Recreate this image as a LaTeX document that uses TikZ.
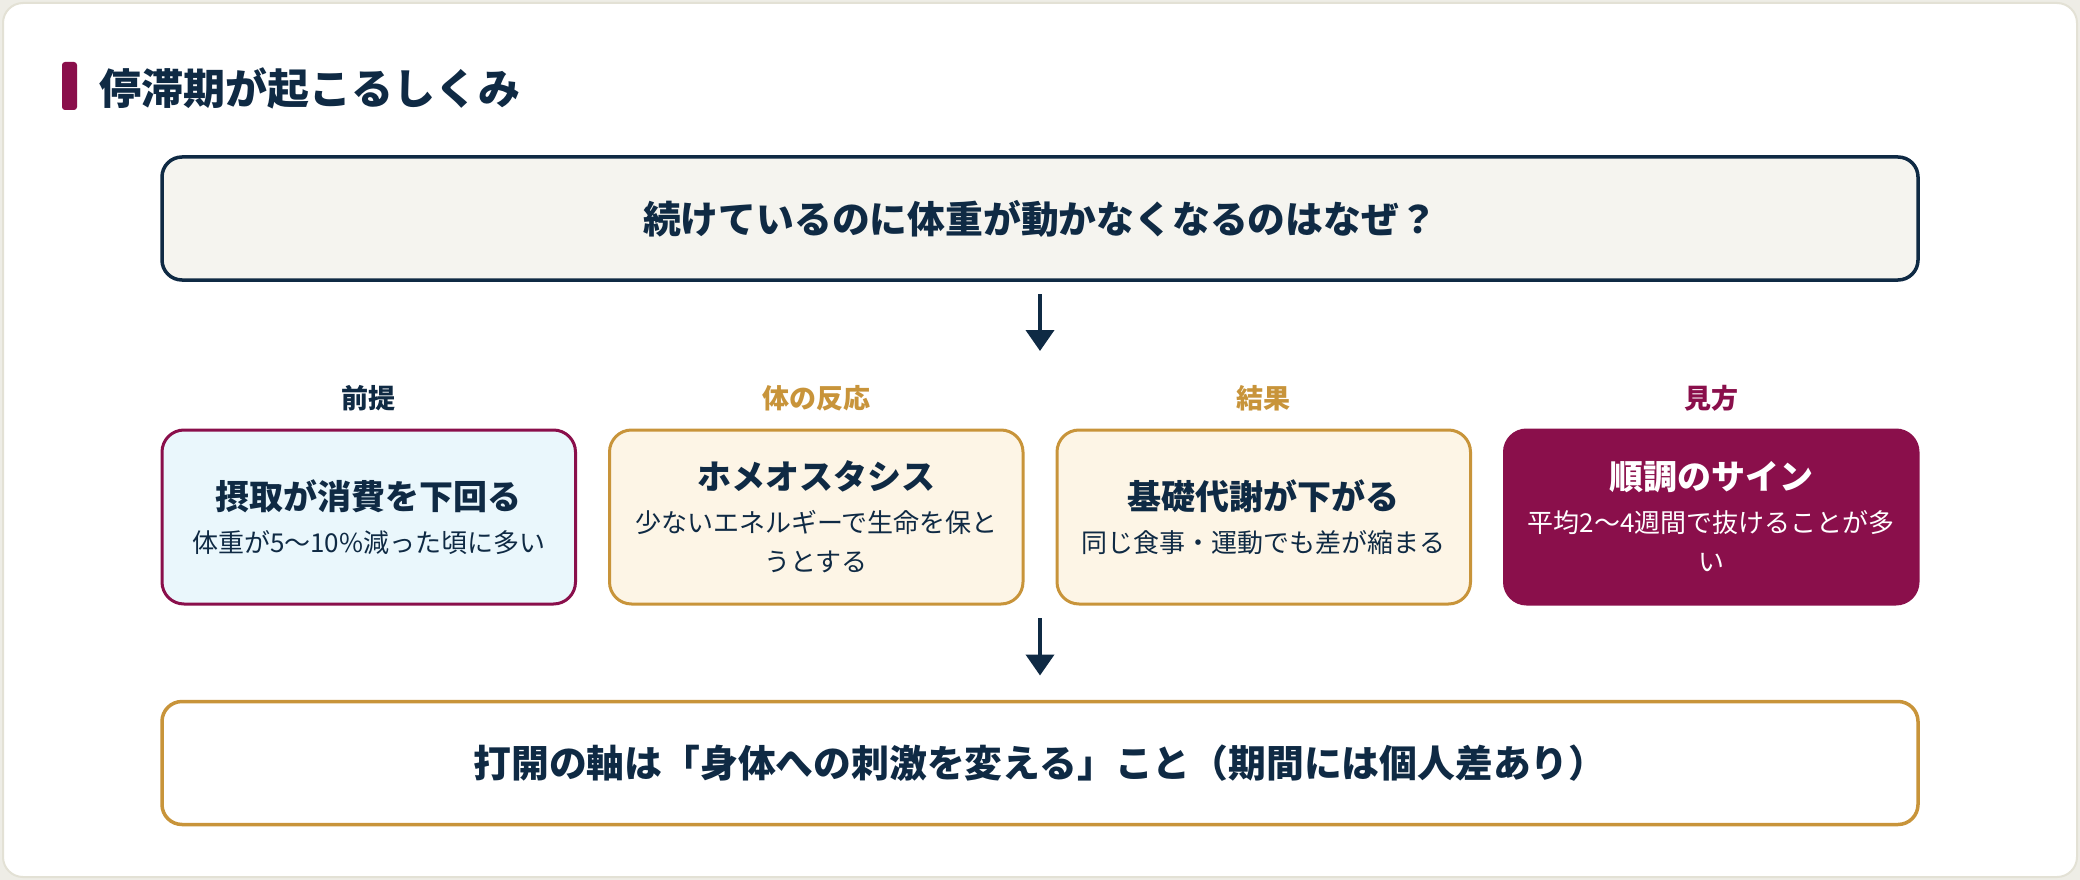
\documentclass[tikz,border=0pt]{standalone}
\usepackage{fontspec}
\setmainfont{Noto Sans CJK JP}
\usetikzlibrary{arrows.meta,positioning}

\definecolor{navy}{HTML}{0F2A44}
\definecolor{maroon}{HTML}{8A0F4B}
\definecolor{gold}{HTML}{C8943A}
\definecolor{ice}{HTML}{EAF7FC}
\definecolor{cream}{HTML}{FDF5E6}
\definecolor{paper}{HTML}{F5F4EF}
\definecolor{frame}{HTML}{E3E1D5}
\definecolor{outside}{HTML}{EEEDE6}

\newcommand{\ttl}[1]{{\fontsize{34}{44}\selectfont\bfseries #1}}

\begin{document}
\begin{tikzpicture}[x=1pt,y=-1pt,node distance=34pt,>={Triangle[width=28pt,length=21pt]},
    every node/.append style={align=center,text=navy,outer sep=0pt},
    box/.style={draw, line width=3pt, rounded corners=22pt, minimum width=413.5pt, minimum height=174pt,
      inner sep=0pt, font=\fontsize{26}{39}\selectfont},
    wide/.style={draw, line width=3.5pt, rounded corners=20pt, minimum width=1756pt, minimum height=123pt,
      font=\fontsize{37.8}{44}\selectfont\bfseries},
    lbl/.style={inner sep=0pt, font=\fontsize{27}{30}\selectfont\bfseries},
    flow/.style={->, line width=4pt, draw=navy}]
    \useasboundingbox[fill=outside] (0,0) rectangle (2080,880);
    \draw[fill=white, draw=frame, line width=2pt, rounded corners=20pt] (3,3) rectangle (2077,877);

    % heading
    \fill[maroon, rounded corners=3pt] (62,62) rectangle (77,110);
    \node[anchor=west, inner sep=0pt, font=\fontsize{42}{50}\selectfont\bfseries] (head) at (99,88) {停滞期が起こるしくみ};

    \node [wide, fill=paper, draw=navy] (q) at (1040,218.5) {続けているのに体重が動かなくなるのはなぜ？};

    \node [box, draw=maroon, fill=ice] (b1) at (368.75,517) {\ttl{摂取が消費を下回る}\\[4pt] 体重が5〜10\%減った頃に多い};
    \node [box, draw=gold, fill=cream, right=of b1] (b2) {\ttl{ホメオスタシス}\\[4pt] 少ないエネルギーで生命を保と\\うとする};
    \node [box, draw=gold, fill=cream, right=of b2] (b3) {\ttl{基礎代謝が下がる}\\[4pt] 同じ食事・運動でも差が縮まる};
    \node [box, draw=maroon, fill=maroon, right=of b3, text=white] (b4) {\ttl{順調のサイン}\\[4pt] 平均2〜4週間で抜けることが多\\い};

    \node [lbl, above=19pt of b1] (l1) {前提};
    \node [lbl, above=19pt of b2, text=gold] (l2) {体の反応};
    \node [lbl, above=19pt of b3, text=gold] (l3) {結果};
    \node [lbl, above=19pt of b4, text=maroon] (l4) {見方};

    \node [wide, fill=white, draw=gold] (bot) at (1040,763) {打開の軸は「身体への刺激を変える」こと（期間には個人差あり）};

    \coordinate (t1) at (1040,351);
    \coordinate (s2) at (1040,618);
    \draw[flow, shorten <=14pt] (q) -- (t1);
    \draw[flow, shorten >=26pt] (s2) -- (bot);
\end{tikzpicture}
\end{document}
